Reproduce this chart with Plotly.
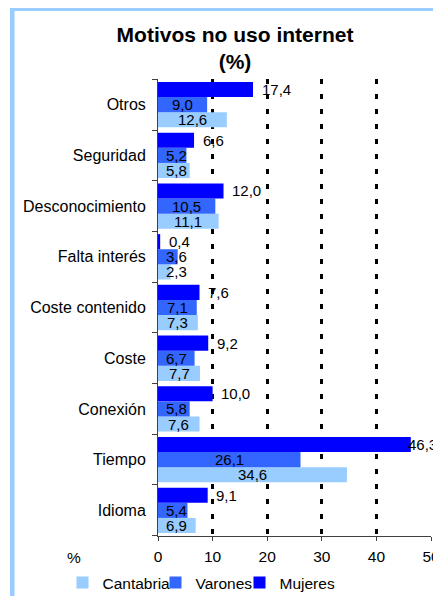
import plotly.graph_objects as go

# ---------------- data ----------------
categories = ["Idioma", "Tiempo", "Conexión", "Coste", "Coste contenido",
              "Falta interés", "Desconocimiento", "Seguridad", "Otros"]
cantabria = [6.9, 34.6, 7.6, 7.7, 7.3, 2.3, 11.1, 5.8, 12.6]
varones = [5.4, 26.1, 5.8, 6.7, 7.1, 3.6, 10.5, 5.2, 9.0]
mujeres = [9.1, 46.3, 10.0, 9.2, 7.6, 0.4, 12.0, 6.6, 17.4]
series_names = ["Cantabria", "Varones", "Mujeres"]
x_ticks = [0, 10, 20, 30, 40, 50]

# ---------------- styles ----------------
COLORS = ["#99CCFF", "#3366FF", "#0000FF"]
FONT = "Liberation Sans, Arial, sans-serif"
OFF = 8                          # page body margin of the browser
W, H = 441 - OFF, 604 - 2 * OFF  # figure size so that the page fits the window
L, R, T = 150, 10, 71
B = H - (536 - OFF)              # plot bottom at screen y = 536
PW, PH = W - L - R, H - T - B
BARGAP = 0.105
FS = 15.5


def fmt(v):
    return f"{v:.1f}".replace(".", ",")


def px_x(sx):          # screen px -> paper x
    return (sx - OFF - L) / PW


def px_y(sy):          # screen px -> paper y
    return (H - B - (sy - OFF)) / PH


fig = go.Figure()
for name, vals, col in zip(series_names, [cantabria, varones, mujeres], COLORS):
    fig.add_trace(go.Bar(
        y=categories, x=vals, name=name, orientation="h",
        marker=dict(color=col, line=dict(width=0)),
        hoverinfo="x+y+name",
    ))

# data labels
cat_px = PH / len(categories)
bar_px = cat_px * (1 - BARGAP) / 3
annotations = []
for idx, (vals, shift) in enumerate([(cantabria, -bar_px), (varones, 0.0), (mujeres, bar_px)]):
    for c, v in zip(categories, vals):
        if idx == 2:
            annotations.append(dict(x=min(v + 1.2, 45.4), y=c, xref="x", yref="y",
                                    text=fmt(v), showarrow=False, xanchor="left", yanchor="middle",
                                    yshift=shift, font=dict(size=FS - 0.5, color="black", family=FONT)))
        else:
            annotations.append(dict(x=max(v / 2, 3.4), y=c, xref="x", yref="y",
                                    text=fmt(v), showarrow=False, xanchor="center", yanchor="middle",
                                    yshift=shift, font=dict(size=FS - 0.5, color="black", family=FONT)))

# "%" axis label
annotations.append(dict(x=px_x(74), y=px_y(557), xref="paper", yref="paper", text="%",
                        xanchor="center", yanchor="middle",
                        showarrow=False, font=dict(size=FS, color="black", family=FONT)))

shapes = []


def rect(x0, y0, x1, y1, color):
    shapes.append(dict(type="rect", xref="paper", yref="paper",
                       x0=px_x(x0), x1=px_x(x1), y0=px_y(y0), y1=px_y(y1),
                       fillcolor=color, line=dict(width=0), layer="above"))


# chart-area frame (light blue)
rect(10, 7, 14.5, 604, "#99CCFF")
rect(10, 7, 441, 11, "#99CCFF")

fig.update_layout(
    width=W, height=H, autosize=False,
    margin=dict(l=L, r=R, t=T, b=B, pad=0, autoexpand=False),
    paper_bgcolor="white", plot_bgcolor="white",
    font=dict(family=FONT, size=FS, color="black"),
    barmode="group", bargap=BARGAP, bargroupgap=0,
    title=dict(text="<b>Motivos no uso internet<br>(%)</b>", x=(235 - OFF) / W, xanchor="center",
               xref="container", yref="container", y=1 - 34 / H, yanchor="top",
               font=dict(size=21, color="black", family=FONT)),
    xaxis=dict(range=[0, 50], tickvals=x_ticks, ticktext=[str(t) for t in x_ticks],
               showgrid=False, zeroline=False, showline=True, linecolor="#404040", linewidth=1,
               ticks="outside", ticklen=4, tickcolor="#404040", tickfont=dict(size=FS),
               ticklabelstandoff=2, automargin=False,
               minor=dict(tickvals=x_ticks[1:], showgrid=True, gridcolor="black", gridwidth=2.5,
                          griddash="5px,10px", ticks=""),
               fixedrange=True),
    yaxis=dict(type="category", categoryorder="array", categoryarray=categories,
               tickson="boundaries", ticks="outside", ticklen=5, tickcolor="#404040",
               showline=True, linecolor="#404040", linewidth=1, showgrid=False,
               ticklabelstandoff=8, automargin=False,
               tickfont=dict(size=16), fixedrange=True),
    legend=dict(orientation="h", xref="paper", yref="paper", x=px_x(62.5), xanchor="left",
                y=px_y(583), yanchor="middle", font=dict(size=FS), traceorder="normal",
                itemwidth=30, bgcolor="rgba(0,0,0,0)"),
    annotations=annotations,
    shapes=shapes,
)
fig.data[0].legendwidth = 48
fig.data[1].legendwidth = 39
fig.data[2].legendwidth = 60

fig.write_html("out.html")
